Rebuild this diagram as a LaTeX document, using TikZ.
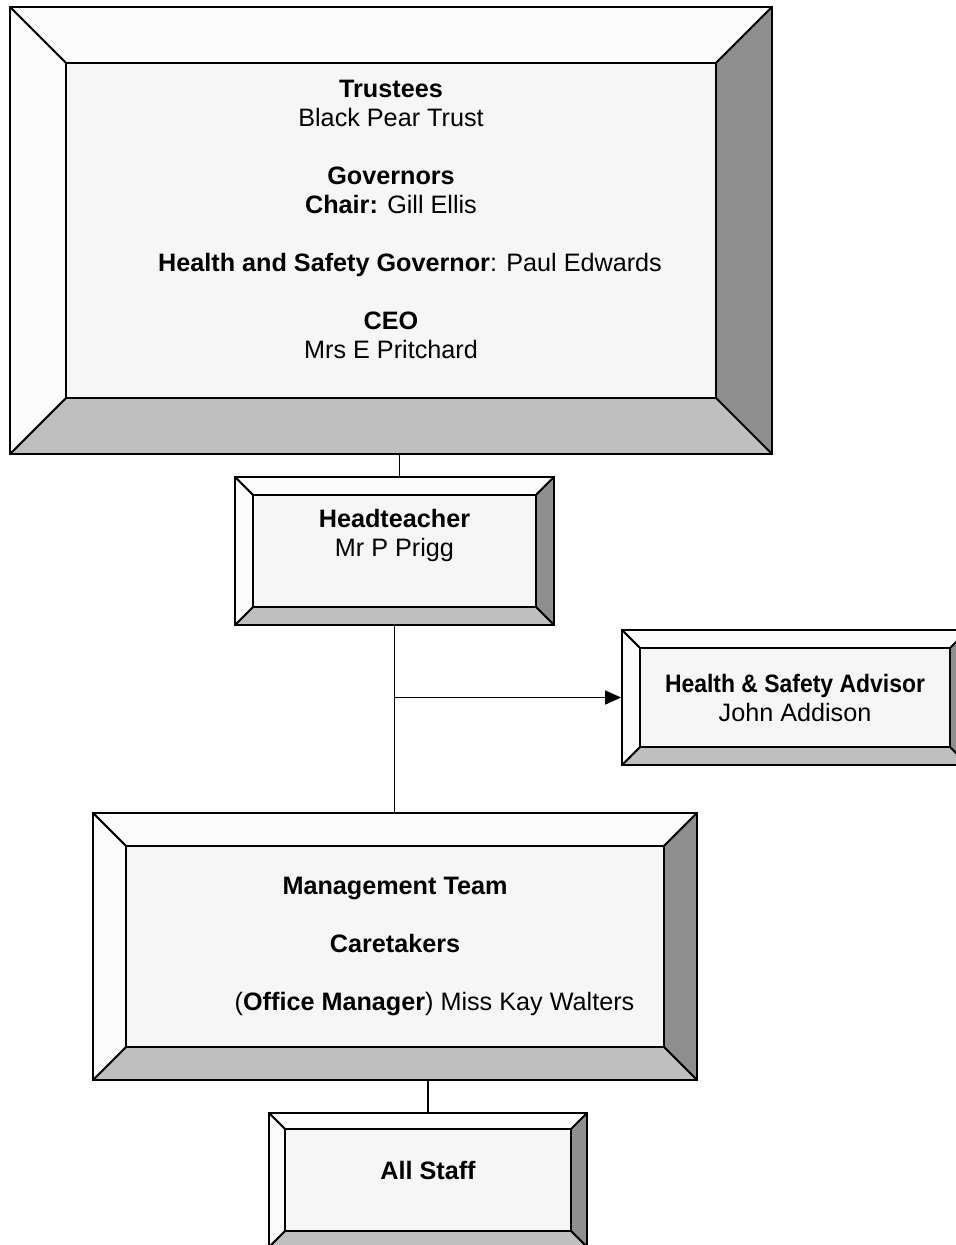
\documentclass[tikz,border=0pt]{standalone}
\usepackage{fontspec}
\setmainfont{Liberation Sans}
\usetikzlibrary{arrows.meta,positioning}

\definecolor{facegray}{gray}{0.965}
\definecolor{toplight}{gray}{0.99}
\definecolor{bottomgray}{gray}{0.75}
\definecolor{rightgray}{gray}{0.56}

% bevelled frame, drawn inside the node before its text
\newcommand{\bevelfaces}[1]{%
  \coordinate (o1) at (path picture bounding box.north west);
  \coordinate (o2) at (path picture bounding box.north east);
  \coordinate (o3) at (path picture bounding box.south east);
  \coordinate (o4) at (path picture bounding box.south west);
  \coordinate (i1) at ([shift={(#1,-#1)}]o1);
  \coordinate (i2) at ([shift={(-#1,-#1)}]o2);
  \coordinate (i3) at ([shift={(-#1,#1)}]o3);
  \coordinate (i4) at ([shift={(#1,#1)}]o4);
  \filldraw[line width=0.9pt, fill=toplight] (o1) -- (o2) -- (i2) -- (i1) -- cycle;
  \filldraw[line width=0.9pt, fill=rightgray] (o2) -- (o3) -- (i3) -- (i2) -- cycle;
  \filldraw[line width=0.9pt, fill=bottomgray] (o3) -- (o4) -- (i4) -- (i3) -- cycle;
  \filldraw[line width=0.9pt, fill=toplight] (o4) -- (o1) -- (i1) -- (i4) -- cycle;
  \filldraw[line width=0.9pt, fill=facegray] (i1) rectangle (i3);
}

\begin{document}
\begin{tikzpicture}[
    x=0.5pt, y=-0.5pt,
    font=\fontsize{12.6}{14.5}\selectfont,
    bevel/.style={draw, line width=0.9pt, fill=white, align=center, inner sep=0pt, path picture={\bevelfaces{#1}}},
    link/.style={line width=0.8pt},
    pointer/.style={link, -{Triangle[length=8pt, width=7pt]}}
  ]
  \useasboundingbox[fill=white] (0,0) rectangle (955,1245);

  % Trust and governing body
  \node[bevel=28pt, minimum width=381pt, minimum height=223.5pt] (trustees) at (391,230.5)
    {\textbf{Trustees}\\Black Pear Trust\\[14.5pt]
     \textbf{Governors}\\\textbf{Chair:} Gill Ellis\\[14.5pt]
     \hspace*{19pt}\textbf{Health and Safety Governor}: Paul Edwards\\[14.5pt]
     \textbf{CEO}\\Mrs E Pritchard\\[-3pt]\mbox{}};

  % School leadership
  \node[bevel=9pt, minimum width=159.5pt, minimum height=74pt] (head) at (394.5,551)
    {\textbf{Headteacher}\\Mr P Prigg\\[3.5pt]\mbox{}};
  \node[bevel=9pt, minimum width=173pt, minimum height=67.5pt] (advisor) at (795,697.5)
    {\scalebox{0.91}[1]{\textbf{Health \& Safety Advisor}}\\John Addison};

  % Staff
  \node[bevel=16.5pt, minimum width=302pt, minimum height=133.5pt] (mgmt) at (395,946.5)
    {\textbf{Management Team}\\[14.5pt]
     \textbf{Caretakers}\\[14.5pt]
     \hspace*{39.5pt}(\textbf{Office Manager}) Miss Kay Walters};
  \node[bevel=8pt, minimum width=159pt, minimum height=67pt] (staff) at (428,1180)
    {\textbf{All Staff}\\[-4.5pt]\mbox{}};

  % Reporting lines
  \draw[link] ([xshift=2.5pt]head.north) -- ([xshift=2.5pt]head.north |- trustees.south);
  \draw[link] (head.south) -- (head.south |- mgmt.north);
  \draw[pointer] (head.south |- advisor.west) -- (advisor.west);
  \draw[link] (staff.north) -- (staff.north |- mgmt.south);
\end{tikzpicture}
\end{document}
